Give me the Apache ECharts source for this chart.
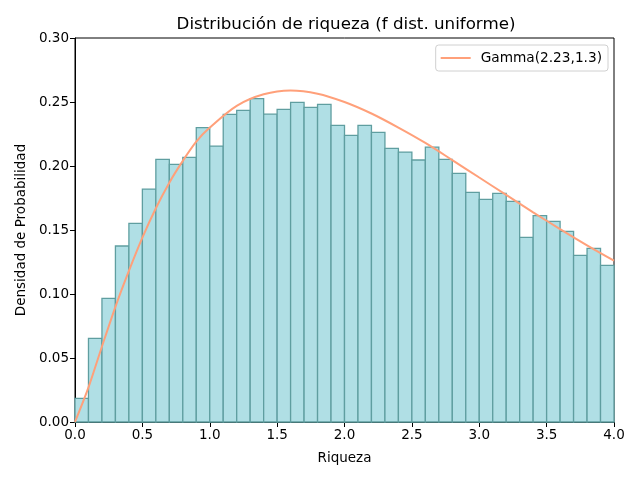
<!DOCTYPE html>
<html>
<head>
<meta charset="utf-8">
<script src="https://cdn.jsdelivr.net/npm/echarts@6/dist/echarts.min.js"></script>
<style>
  html, body { margin: 0; padding: 0; background: #fff; }
  #chart { width: 640px; height: 480px; }
</style>
</head>
<body>
<div id="chart"></div>
<script>
// histograma: 40 bins de ancho 0.1 entre 0 y 4
var binStart = 0, binWidth = 0.1;
var density = [0.0185, 0.0654, 0.0966, 0.1375, 0.1552, 0.182, 0.2052, 0.2013, 0.2068, 0.230,
               0.2156, 0.2404, 0.2435, 0.2526, 0.2405, 0.2443, 0.2497, 0.2458, 0.2482, 0.2318,
               0.224, 0.2318, 0.2263, 0.2138, 0.2109, 0.2047, 0.2148, 0.2052, 0.1943, 0.1794,
               0.174, 0.1786, 0.1724, 0.1443, 0.1612, 0.1568, 0.149, 0.1302, 0.1357, 0.1224];
// curva Gamma
var curveX = [0, 0.1, 0.2, 0.3, 0.4, 0.5, 0.6, 0.7, 0.8, 0.9, 1.0, 1.2, 1.4, 1.6, 1.8, 2.0,
              2.2, 2.4, 2.6, 2.8, 3.0, 3.2, 3.4, 3.6, 3.8, 4.0];
var curveY = [0, 0.027, 0.059, 0.090, 0.118, 0.144, 0.167, 0.187, 0.204, 0.219, 0.230, 0.247,
              0.256, 0.259, 0.2565, 0.250, 0.241, 0.230, 0.218, 0.2046, 0.191, 0.1774, 0.1638,
              0.1507, 0.138, 0.126];
var xTicks = ["0.0", "0.5", "1.0", "1.5", "2.0", "2.5", "3.0", "3.5", "4.0"];

var histData = density.map(function (d, i) {
    return [binStart + i * binWidth, binStart + (i + 1) * binWidth, d];
});
var lineData = curveX.map(function (x, i) { return [x, curveY[i]]; });

var font = "DejaVu Sans";
var chart = echarts.init(document.getElementById("chart"), null, {renderer: "canvas"});
chart.setOption({
    animation: false,
    backgroundColor: "#fff",
    textStyle: {fontFamily: font},
    title: {
        text: "Distribución de riqueza (f dist. uniforme)",
        left: 341, top: 11, textAlign: "center",
        textStyle: {fontFamily: font, fontSize: 16.7, fontWeight: "normal", color: "#000"}
    },
    legend: {
        right: 32, top: 45,
        data: [{name: "Gamma(2.23,1.3)", icon: "rect"}],
        itemWidth: 30, itemHeight: 2,
        padding: [6, 6, 6, 5],
        borderColor: "#d0d0d0", borderWidth: 1, borderRadius: 3,
        textStyle: {fontFamily: font, fontSize: 13.7, color: "#000", padding: [0, 0, 0, 5]}
    },
    grid: {
        left: 75, right: 26, top: 38, bottom: 58,
        show: true, borderColor: "#000", borderWidth: 1, backgroundColor: "transparent"
    },
    xAxis: {
        type: "value", min: 0, max: 4, interval: 0.5,
        name: "Riqueza", nameLocation: "middle", nameGap: 29,
        nameTextStyle: {fontFamily: font, fontSize: 13.5, color: "#000"},
        axisLine: {show: true, lineStyle: {color: "#000"}},
        axisTick: {show: true, length: 5, lineStyle: {color: "#000"}},
        axisLabel: {
            fontFamily: font, fontSize: 13.5, color: "#000", margin: 6,
            formatter: function (v) { return xTicks[Math.round(v / 0.5)]; }
        },
        splitLine: {show: false}
    },
    yAxis: {
        type: "value", min: 0, max: 0.3, interval: 0.05,
        name: "Densidad de Probabilidad", nameLocation: "middle", nameGap: 47,
        nameTextStyle: {fontFamily: font, fontSize: 13.5, color: "#000"},
        axisLine: {show: true, lineStyle: {color: "#000"}},
        axisTick: {show: true, length: 5, lineStyle: {color: "#000"}},
        axisLabel: {
            fontFamily: font, fontSize: 13.5, color: "#000", margin: 6,
            formatter: function (v) { return v.toFixed(2); }
        },
        splitLine: {show: false}
    },
    series: [
        {
            type: "custom",
            name: "hist",
            data: histData,
            encode: {x: [0, 1], y: 2},
            renderItem: function (params, api) {
                var p0 = api.coord([api.value(0), api.value(2)]);
                var p1 = api.coord([api.value(1), 0]);
                return {
                    type: "rect",
                    shape: {x: p0[0], y: p0[1], width: p1[0] - p0[0], height: p1[1] - p0[1]},
                    style: {fill: "#b0dfe5", stroke: "#5f9ea0", lineWidth: 1.3}
                };
            },
            z: 2
        },
        {
            type: "line",
            name: "Gamma(2.23,1.3)",
            data: lineData,
            smooth: 0.3,
            showSymbol: false,
            symbol: "none",
            lineStyle: {color: "#ffa07a", width: 2},
            itemStyle: {color: "#ffa07a"},
            z: 3
        }
    ]
});
</script>
</body>
</html>
